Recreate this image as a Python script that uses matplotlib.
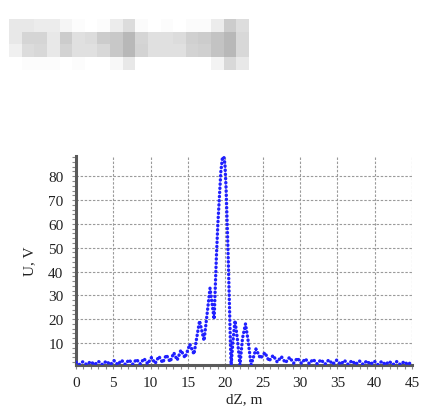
import numpy as np
import matplotlib
matplotlib.use("Agg")
import matplotlib.pyplot as plt
from matplotlib.ticker import MultipleLocator

# ---- data (dZ in m, U in V) ----
dz = [0.0, 0.4, 0.9, 1.45, 1.95, 2.5, 3.0, 3.55, 4.05, 4.6, 5.1, 5.6, 6.1, 6.6,
      7.1, 7.6, 8.1, 8.6, 9.1, 9.6, 10.1, 10.6, 11.1, 11.6, 12.1, 12.6, 13.1,
      13.55, 14.05, 14.6, 15.25, 15.8, 16.55, 17.15, 17.95, 18.5,
      18.65, 18.8, 19.0, 19.2, 19.4, 19.6, 19.8, 19.95, 20.1, 20.25, 20.4,
      20.55, 20.68, 20.78,
      21.0, 21.3, 21.6, 21.96, 22.3, 22.7, 23.05, 23.45, 24.1, 24.7, 25.3,
      25.85, 26.4, 26.95, 27.5, 28.05, 28.6, 29.15, 29.65, 30.2, 30.7, 31.25,
      31.75, 32.3, 32.8, 33.35, 33.85, 34.4, 34.9, 35.45, 35.95, 36.45, 36.95,
      37.45, 37.95, 38.45, 38.95, 39.45, 39.95, 40.45, 40.95, 41.45, 41.95,
      42.45, 42.95, 43.45, 43.95, 44.45, 44.9, 45.0]
u = [2.0, 0.9, 2.1, 0.9, 2.2, 0.9, 2.3, 0.9, 2.4, 0.9, 2.6, 0.9, 2.8, 1.0,
     3.0, 1.0, 3.2, 1.1, 3.5, 1.2, 3.9, 1.4, 4.4, 1.7, 5.0, 2.1, 5.9,
     2.8, 7.0, 3.8, 9.5, 5.3, 19.3, 11.0, 33.0, 20.0,
     33.0, 46.0, 60.0, 71.0, 82.0, 87.5, 88.2, 85.0, 75.0, 60.0, 44.0,
     26.0, 10.0, 0.8,
     10.0, 19.4, 12.0, 0.8, 12.0, 18.0, 11.0, 0.8, 7.5, 3.5, 6.0,
     2.4, 4.8, 2.0, 4.3, 1.7, 4.0, 1.5, 3.7, 1.4, 3.4, 1.3,
     3.2, 1.2, 3.0, 1.1, 2.9, 1.1, 2.8, 1.0, 2.7, 1.0, 2.6,
     1.0, 2.5, 1.0, 2.5, 1.0, 2.4, 0.9, 2.3, 0.9, 2.3,
     0.9, 2.2, 0.9, 2.2, 0.9, 2.0, 1.8]

x_ticks = [0, 5, 10, 15, 20, 25, 30, 35, 40, 45]
y_ticks = [10, 20, 30, 40, 50, 60, 70, 80]
x_label = "dZ, m"
y_label = "U, V"

# blurred (pixelated) header block, grey levels as seen in the reference
header = np.array([
    [0xe8, 0xe8, 0xec, 0xec, 0xf5, 0xfc, 0xff, 0xfc, 0xec, 0xdc, 0xfb, 0xff, 0xfc, 0xff, 0xfb, 0xfb, 0xec, 0xcc, 0xdd],
    [0xe8, 0xd5, 0xd5, 0xe8, 0xcc, 0xe0, 0xdc, 0xcc, 0xc8, 0xb8, 0xd5, 0xe0, 0xe0, 0xdc, 0xd0, 0xcc, 0xc4, 0xb8, 0xd8],
    [0xf0, 0xdc, 0xd8, 0xe8, 0xd4, 0xe0, 0xe0, 0xd8, 0xc8, 0xb8, 0xd4, 0xe0, 0xe0, 0xe0, 0xd4, 0xd0, 0xc4, 0xb8, 0xd8],
    [0xff, 0xfc, 0xfc, 0xfc, 0xff, 0xfc, 0xff, 0xff, 0xf8, 0xe8, 0xff, 0xff, 0xff, 0xff, 0xff, 0xff, 0xf4, 0xd8, 0xe8],
])

W, H = 422, 410
fig = plt.figure(figsize=(W / 100, H / 100), dpi=100)

hax = fig.add_axes([9 / W, 1 - 71 / H, 240 / W, 51 / H])
hax.imshow(header, cmap="gray", vmin=0, vmax=255, aspect="auto", interpolation="nearest")
hax.axis("off")

L, R, T, B = 76, 412, 157, 366
ax = fig.add_axes([L / W, 1 - B / H, (R - L) / W, (B - T) / H])

ax.plot(dz, u, color="#2020ff", lw=2.4, linestyle=(0, (0.1, 1.15)),
        dash_capstyle="round", solid_joinstyle="round", zorder=3)

ax.set_xlim(0, 45)
ax.set_ylim(0.76, 88.5)
ax.set_xticks(x_ticks)
ax.set_yticks(y_ticks)
ax.xaxis.set_minor_locator(MultipleLocator(1))
ax.yaxis.set_minor_locator(MultipleLocator(2))

ax.grid(True, which="major", color="#9a9a9a", linestyle=(0, (2.2, 1.5)), lw=0.8)
for s in ("top", "right"):
    ax.spines[s].set_visible(False)
for s in ("left", "bottom"):
    ax.spines[s].set_color("#5a5a5a")
    ax.spines[s].set_linewidth(2.2)

serif = ["Liberation Serif", "DejaVu Serif"]
ax.tick_params(which="both", direction="out", color="#8a8a8a", width=0.8)
ax.tick_params(which="major", length=3)
ax.tick_params(which="minor", length=3)
ax.tick_params(axis="y", which="major", pad=6)
ax.tick_params(axis="x", which="major", pad=5)
for lab in ax.get_xticklabels() + ax.get_yticklabels():
    lab.set_family(serif)
    lab.set_fontsize(11)
    lab.set_color("#222222")

ax.set_xlabel(x_label, family=serif, fontsize=11, color="#222222", labelpad=2)
ax.set_ylabel(y_label, family=serif, fontsize=11, color="#222222", labelpad=9)

fig.savefig("out.png", dpi=100)
